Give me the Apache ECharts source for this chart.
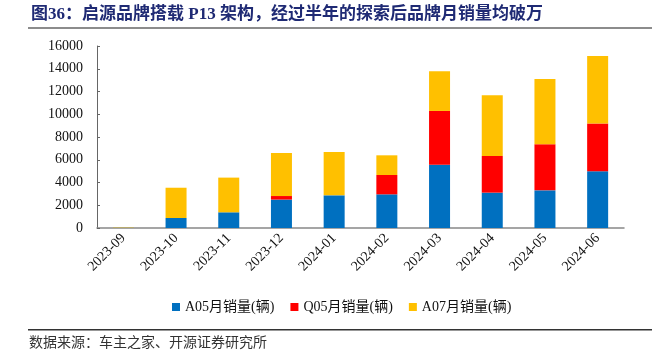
<!DOCTYPE html>
<html>
<head>
<meta charset="utf-8">
<script src="https://cdn.jsdelivr.net/npm/echarts@6/dist/echarts.min.js"></script>
<style>html,body{margin:0;padding:0;background:#fff;}#c{width:652px;height:356px;}</style>
</head>
<body>
<div id="c"></div>
<script>
var categories = ['2023-09','2023-10','2023-11','2023-12','2024-01','2024-02','2024-03','2024-04','2024-05','2024-06'];
var a05 = [10, 880, 1380, 2500, 2870, 2960, 5570, 3110, 3310, 4980];
var q05 = [0, 0, 0, 310, 0, 1700, 4720, 3220, 4050, 4200];
var a07 = [30, 2660, 3050, 3780, 3810, 1730, 3490, 5340, 5740, 5940];
var yTicks = [0, 2000, 4000, 6000, 8000, 10000, 12000, 14000, 16000];
var seriesNames = ['A05月销量(辆)', 'Q05月销量(辆)', 'A07月销量(辆)'];
var colors = ['#0070C0', '#FF0000', '#FFC000'];

var serif = '"Liberation Serif", "Times New Roman", "Noto Sans CJK SC", serif';
var chart = echarts.init(document.getElementById('c'), null, {renderer: 'canvas'});
function mk(name, data, color) {
  return {name: name, type: 'bar', stack: 'total', data: data, barWidth: 21,
    itemStyle: {color: color}, emphasis: {disabled: true}};
}
chart.setOption({
  animation: false,
  color: colors,
  grid: {left: 97, right: 28, top: 46, bottom: 128, containLabel: false},
  graphic: [
    {type: 'text', left: 31, top: 6, style: {text: '图36：启源品牌搭载 P13 架构，经过半年的探索后品牌月销量均破万',
      font: 'bold 17px ' + serif, fill: '#1F2A74'}},
    {type: 'rect', shape: {x: 28, y: 27, width: 624, height: 2}, style: {fill: '#8C8C8C'}},
    {type: 'rect', shape: {x: 28, y: 329, width: 624, height: 1.5}, style: {fill: '#333'}},
    {type: 'text', left: 29, top: 335, style: {text: '数据来源：车主之家、开源证券研究所',
      font: '14px "Noto Sans CJK SC", serif', fill: '#333'}}
  ],
  legend: {
    data: seriesNames, top: 295, left: 167, itemWidth: 8, itemHeight: 8, itemGap: 16, icon: 'rect',
    textStyle: {fontFamily: serif, fontSize: 14, color: '#111'}
  },
  xAxis: {
    type: 'category', data: categories, boundaryGap: true,
    axisLine: {lineStyle: {color: '#888', width: 1.5}},
    axisTick: {inside: true, length: 4, lineStyle: {color: '#555'}},
    axisLabel: {rotate: 45, margin: 8, fontFamily: serif, fontSize: 14, color: '#111', interval: 0}
  },
  yAxis: {
    type: 'value', min: 0, max: 16000, interval: 2000,
    splitLine: {show: false},
    axisLine: {show: true, lineStyle: {color: '#666'}},
    axisTick: {show: true, inside: true, length: 3, lineStyle: {color: '#666'}},
    axisLabel: {fontFamily: serif, fontSize: 14, color: '#111', margin: 14,
      formatter: function (v) { return yTicks.indexOf(v) >= 0 ? String(v) : ''; }}
  },
  series: [mk(seriesNames[0], a05, colors[0]), mk(seriesNames[1], q05, colors[1]), mk(seriesNames[2], a07, colors[2])]
});
</script>
</body>
</html>
